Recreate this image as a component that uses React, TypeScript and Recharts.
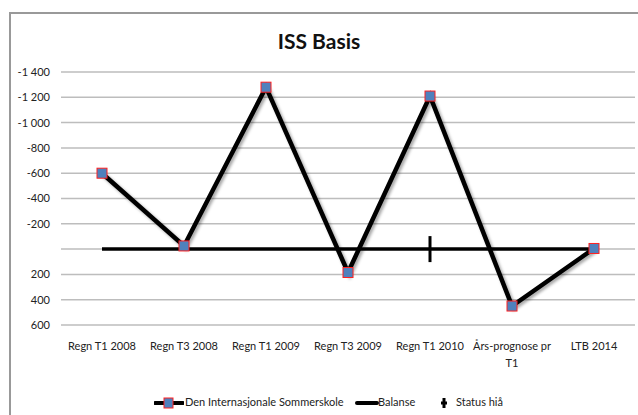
import React from 'react';
import { LineChart, Line, XAxis, YAxis, CartesianGrid, Legend } from 'recharts';

const categories = ['Regn T1 2008', 'Regn T3 2008', 'Regn T1 2009', 'Regn T3 2009', 'Regn T1 2010', 'Års-prognose pr T1', 'LTB 2014'];
const sommerskole = [-600, -25, -1280, 185, -1210, 450, -5];
const balanse = [0, 0, 0, 0, 0, 0, 0];
const statusHia = [null, null, null, null, 0, null, null];
const yTicks = [-1400, -1200, -1000, -800, -600, -400, -200, 0, 200, 400, 600];

const data = categories.map((c, i) => ({
    name: c,
    iss: sommerskole[i],
    balanse: balanse[i],
    status: statusHia[i],
}));

const FONT = 'Lato, "Open Sans", sans-serif';

const fmtY = (v: number) => {
    if (v === 0) return '';
    const a = Math.abs(v);
    const s = a >= 1000 ? Math.floor(a / 1000) + ' ' + String(a % 1000).padStart(3, '0') : String(a);
    return (v < 0 ? '-' : '') + s;
};

const SquareDot = (props: any) => {
    const { cx, cy } = props;
    if (cx == null || cy == null) return null;
    return <rect x={cx - 5} y={cy - 5} width={10} height={10} fill="#4F81BD" stroke="#FF2020" strokeWidth={1} />;
};

const StatusDot = (props: any) => {
    const { cx, cy } = props;
    if (cx == null || cy == null) return null;
    return <line x1={cx} x2={cx} y1={cy - 13} y2={cy + 13} stroke="#000" strokeWidth={3} />;
};

const XTick = (props: any) => {
    const { x, y, payload } = props;
    const label: string = payload.value;
    const lines = label.length > 14 ? [label.slice(0, label.lastIndexOf(' ')), label.slice(label.lastIndexOf(' ') + 1)] : [label];
    return (
        <text x={x} y={y + 17} textAnchor="middle" fill="#222" fontSize={11} fontFamily={FONT}>
            {lines.map((l, i) => (
                <tspan key={i} x={x} dy={i === 0 ? 0 : 17}>{l}</tspan>
            ))}
        </text>
    );
};

const LegendBox = () => (
    <div style={{ position: 'relative', width: 638, height: 20, fontFamily: FONT, fontSize: 11, color: '#222' }}>
        <svg style={{ position: 'absolute', left: 154, top: 4 }} width={30} height={12}>
            <line x1={1} x2={29} y1={6} y2={6} stroke="#000" strokeWidth={4} strokeLinecap="round" />
            <rect x={10} y={1} width={9} height={10} fill="#4F81BD" stroke="#FF2020" />
        </svg>
        <span style={{ position: 'absolute', left: 185, top: 2 }}>Den Internasjonale Sommerskole</span>
        <svg style={{ position: 'absolute', left: 355, top: 4 }} width={24} height={12}>
            <line x1={2} x2={22} y1={6} y2={6} stroke="#000" strokeWidth={4} strokeLinecap="round" />
        </svg>
        <span style={{ position: 'absolute', left: 378, top: 2 }}>Balanse</span>
        <svg style={{ position: 'absolute', left: 439, top: 3 }} width={10} height={14}>
            <line x1={5} x2={5} y1={2} y2={12} stroke="#000" strokeWidth={3} />
            <line x1={2} x2={8} y1={7} y2={7} stroke="#000" strokeWidth={3} />
        </svg>
        <span style={{ position: 'absolute', left: 456, top: 2 }}>Status hiå</span>
    </div>
);

export default function App() {
    return (
        <div style={{ position: 'absolute', left: 0, top: 0, width: 638, height: 415, background: '#fff' }}>
            <div style={{ position: 'absolute', left: 9, top: 12, width: 640, height: 420, borderLeft: '2px solid #999', borderTop: '2px solid #999' }} />
            <div style={{ position: 'absolute', left: 0, top: 28, width: 638, textAlign: 'center', fontFamily: FONT, fontWeight: 700, fontSize: 21, color: '#111' }}>
                ISS Basis
            </div>
            <LineChart width={638} height={415} data={data} margin={{ top: 72, right: 3, left: 6, bottom: 30 }}>
                <CartesianGrid horizontal vertical={false} stroke="#BDBDBD" strokeWidth={1.5} />
                <XAxis dataKey="name" axisLine={false} tickLine={false} padding={{ left: 41, right: 41 }} height={40} tick={<XTick />} interval={0} />
                <YAxis
                    reversed
                    domain={[-1400, 600]}
                    ticks={yTicks}
                    tickFormatter={fmtY}
                    axisLine={false}
                    tickLine={false}
                    tickSize={0}
                    tickMargin={11}
                    width={55}
                    tick={{ fontSize: 11, fill: '#222', fontFamily: FONT }}
                    interval={0}
                />
                <Line dataKey="balanse" stroke="#000" strokeWidth={3.5} dot={false} isAnimationActive={false} />
                <Line dataKey="status" stroke="none" dot={<StatusDot />} isAnimationActive={false} />
                <Line
                    dataKey="iss"
                    stroke="#000"
                    strokeWidth={4.5}
                    dot={<SquareDot />}
                    style={{ filter: 'drop-shadow(2px 2px 1.5px rgba(0,0,0,0.35))' }}
                    isAnimationActive={false}
                />
                <Legend verticalAlign="bottom" content={<LegendBox />} wrapperStyle={{ left: 0, bottom: 2 }} />
            </LineChart>
        </div>
    );
}
